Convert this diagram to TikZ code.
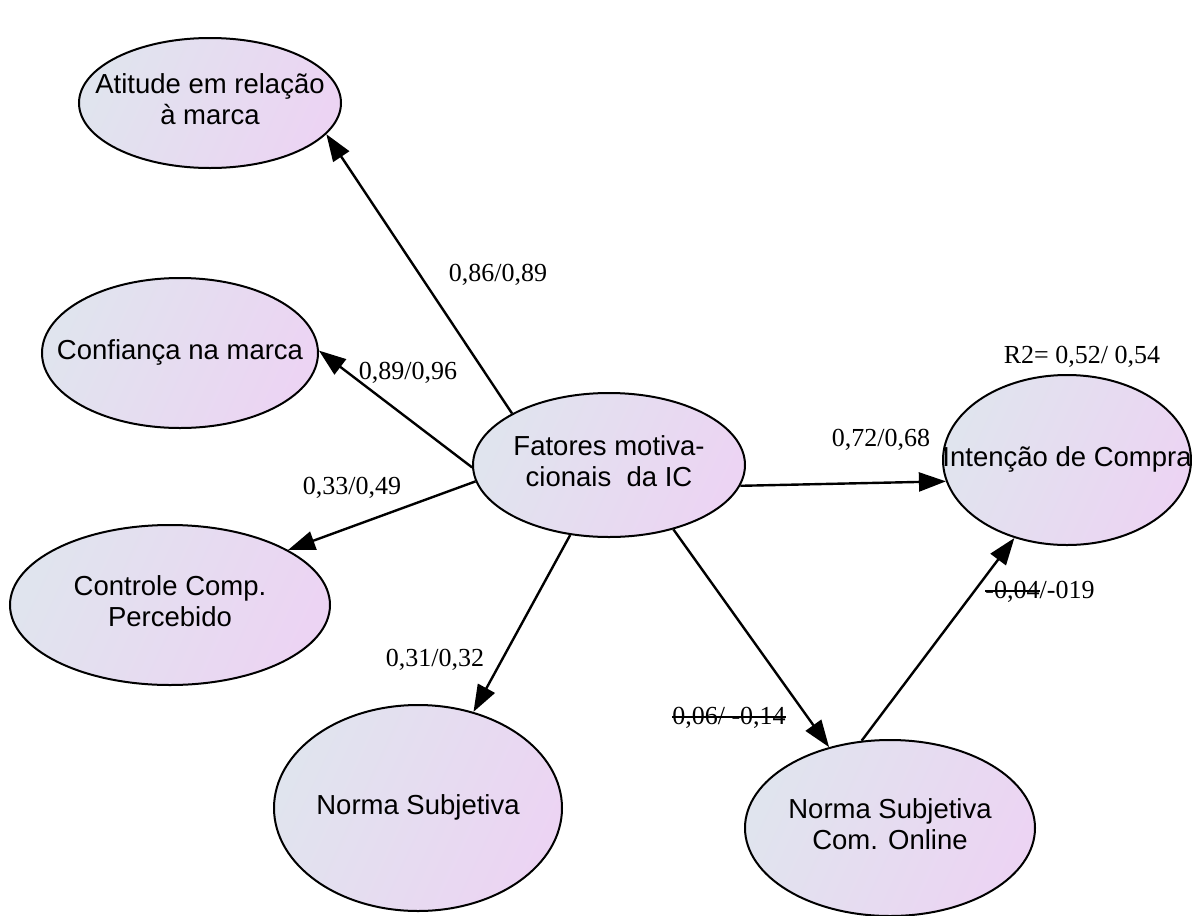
\documentclass[tikz,border=0pt]{standalone}
\usepackage{fontspec}
\setmainfont{Liberation Serif}
\newfontfamily\arialf{Liberation Sans}
\usetikzlibrary{shapes.geometric,arrows.meta}
\definecolor{ellL}{RGB}{224,228,238}
\definecolor{ellR}{RGB}{236,212,243}
\newcommand\strk[1]{\setbox0\hbox{#1}\rlap{\rule[0.27em]{\wd0}{0.065em}}\box0}
\newcommand\etxt[1]{\makebox[0pt]{\begin{tabular}{@{}c@{}}#1\end{tabular}}}
\begin{document}
\begin{tikzpicture}[x=1pt,y=-1pt,
  latent/.style={ellipse, draw=black, line width=2pt, left color=ellL, right color=ellR,
     shading angle=65, inner sep=0pt, font=\arialf\fontsize{27.5}{31}\selectfont},
  arr/.style={line width=2.4pt, -{Triangle[length=27pt,width=19pt]}},
  coef/.style={font=\fontsize{26}{30}\selectfont, inner sep=0pt}]
\useasboundingbox (0,0) rectangle (1192,916);
\node[latent, minimum width=262pt, minimum height=130pt] (ati) at (210,103) {\etxt{Atitude em relação\\à marca}};
\node[latent, minimum width=276pt, minimum height=150pt] (con) at (180,353) {\etxt{Confiança na marca}};
\node[latent, minimum width=320pt, minimum height=160pt] (ctr) at (170,605) {\etxt{Controle Comp.\\Percebido}};
\node[latent, minimum width=288pt, minimum height=206pt] (ns) at (418,808) {\etxt{Norma Subjetiva}};
\node[latent, minimum width=290pt, minimum height=176pt] (nso) at (890,828) {\etxt{Norma Subjetiva\\Com. Online}};
\node[latent, minimum width=248pt, minimum height=170pt] (int) at (1067,460) {\etxt{Intenção de Compra}};
\node[latent, minimum width=272pt, minimum height=144pt] (fat) at (609,465) {\etxt{Fatores motiva-\\cionais~ da IC}};

\draw[arr] (fat.152) -- (ati.-15);
\draw[arr] (fat.181) -- (con.1);
\draw[arr] (fat.187) -- (ctr.25);
\draw[arr] (fat.241) -- (ns.60);
\draw[arr] (fat.-45) -- (nso.127);
\draw[arr] (fat.-9) -- (int.190);
\draw[arr] (nso.108) -- (int.236);

\node[coef] (l1) at (498,275) {0,86/0,89};
\node[coef] (l2) at (408,373) {0,89/0,96};
\node[coef] (l3) at (352,488) {0,33/0,49};
\node[coef] (l4) at (435,660) {0,31/0,32};
\node[coef] (l5) at (729,718) {\strk{0,06/ -0,14}};
\node[coef] (l6) at (881,440) {0,72/0,68};
\node[coef] (l7) at (1040,592) {\strk{-0,04}/-019};
\node[coef] (l8) at (1082,357) {R2= 0,52/ 0,54};
\end{tikzpicture}
\end{document}
